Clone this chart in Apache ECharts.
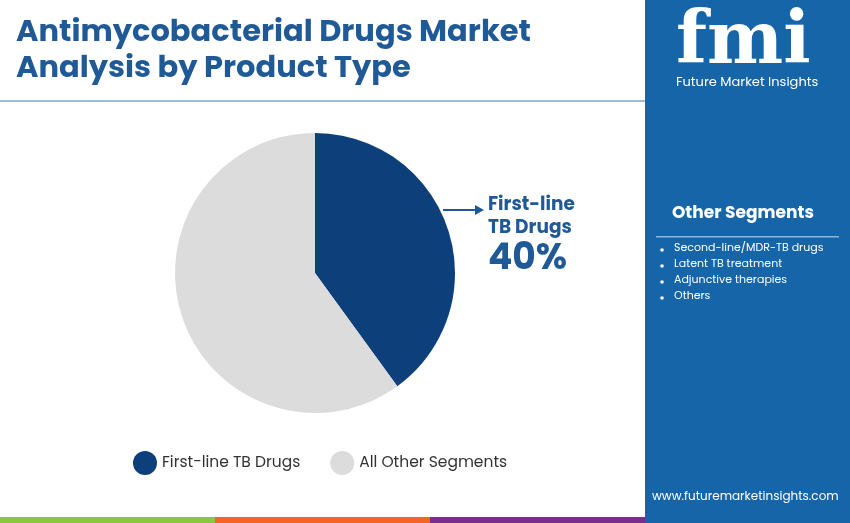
<!DOCTYPE html><html><head><meta charset="utf-8"><script src="https://cdn.jsdelivr.net/npm/echarts@6/dist/echarts.min.js"></script>
<style>html,body{margin:0;padding:0;background:#fff}#c{width:850px;height:523px}</style></head><body><div id="c"></div><script>
const categories=['First-line TB Drugs','All Other Segments'];
const values=[40,60];
const otherSegments=['Second-line/MDR-TB drugs','Latent TB treatment','Adjunctive therapies','Others'];
const colors=['#0d3f7a','#dcdcdc'];
const c=echarts.init(document.getElementById('c'));
const F='Poppins, Inter, "Noto Sans", sans-serif';
const g=[
 {type:'rect',shape:{x:645,y:0,width:205,height:523},style:{fill:'#1565a8'}},
 {type:'rect',shape:{x:0,y:517,width:215,height:6},style:{fill:'#8cc63f'}},
 {type:'rect',shape:{x:215,y:517,width:215,height:6},style:{fill:'#f26522'}},
 {type:'rect',shape:{x:430,y:517,width:215,height:6},style:{fill:'#7b2d8e'}},
 {type:'rect',shape:{x:0,y:100,width:645,height:2},style:{fill:'#9dbbd9'}},
 {type:'text',left:16,top:15,style:{text:'Antimycobacterial Drugs Market\nAnalysis by Product Type',font:'bold 30.5px '+F,fill:'#1f5a96',lineHeight:36}},
 {type:'text',left:676,top:8,style:{text:'fmi',font:'bold 72px "DejaVu Serif", serif',fill:'#fff'}},
 {type:'text',left:676,top:76,style:{text:'Future Market Insights',font:'13px '+F,fill:'#fff'}},
 {type:'text',left:672,top:205,style:{text:'Other Segments',font:'bold 17px '+F,fill:'#fff'}},
 {type:'rect',shape:{x:656,y:236,width:183,height:1.5},style:{fill:'#8fb3d9'}},
 {type:'text',left:652,top:491,style:{text:'www.futuremarketinsights.com',font:'12px '+F,fill:'#fff'}},
 {type:'text',left:488,top:194,style:{text:'First-line\nTB Drugs',font:'bold 18.5px '+F,fill:'#1f5a96',lineHeight:23}},
 {type:'text',left:488,top:242,style:{text:values[0]+'%',font:'bold 36px '+F,fill:'#1f5a96'}},
 {type:'line',shape:{x1:443,y1:210,x2:476,y2:210},style:{stroke:'#1f5a96',lineWidth:2}},
 {type:'polygon',shape:{points:[[484,210],[475,205],[475,215]]},style:{fill:'#1f5a96'}}
];
otherSegments.forEach((s,i)=>{g.push({type:'circle',shape:{cx:662,cy:250+i*16,r:1.8},style:{fill:'#fff'}});g.push({type:'text',left:674,top:243+i*16,style:{text:s,font:'11px '+F,fill:'#fff'}});});
c.setOption({animation:false,graphic:g,
 legend:{bottom:43,left:128,itemGap:30,icon:'circle',itemWidth:24,itemHeight:24,textStyle:{fontSize:15.5,color:'#333',fontFamily:F},data:categories},
 series:[{type:'pie',center:[315,273],radius:[0,140],startAngle:90,clockwise:true,label:{show:false},labelLine:{show:false},
 data:categories.map((n,i)=>({name:n,value:values[i],itemStyle:{color:colors[i]}}))}]});
</script></body></html>
